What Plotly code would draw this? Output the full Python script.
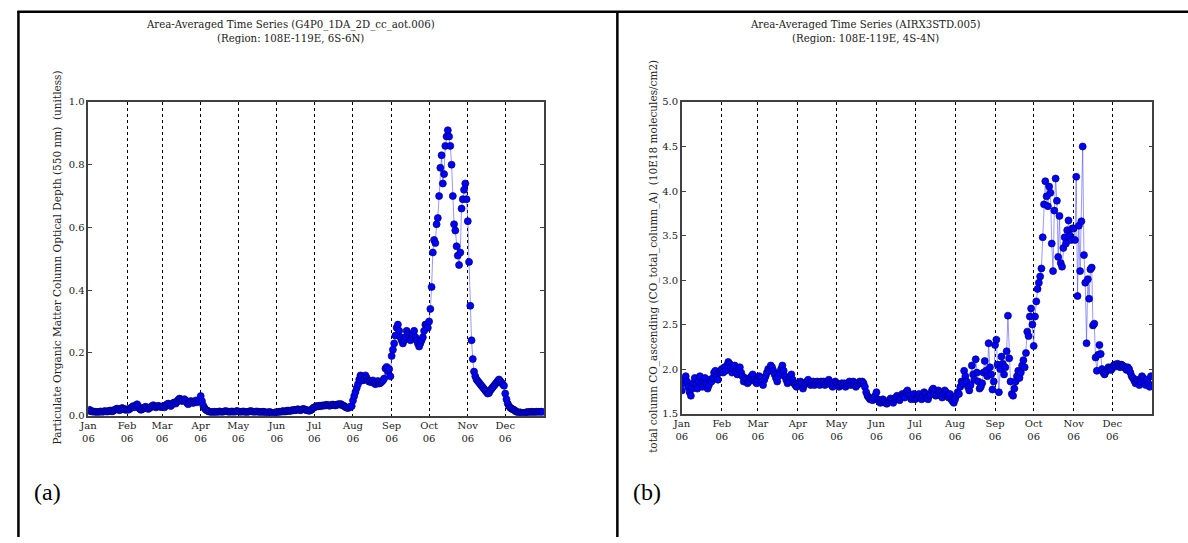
import datetime as dt
import plotly.graph_objects as go

W, H = 1188, 543

# ---------------- data: panel (a) organic matter AOT (unitless) ----------------
om_jan = [0.015,0.018,0.014,0.012,0.013,0.011,0.012,0.010,0.011,0.012,0.013,0.011,0.012,0.014,0.013,0.012,0.014,0.015,0.016,0.013,0.015,0.018,0.020,0.022,0.019,0.017,0.020,0.024,0.022,0.019,0.018]
om_feb = [0.020,0.018,0.021,0.024,0.027,0.030,0.026,0.032,0.036,0.030,0.022,0.018,0.020,0.023,0.026,0.028,0.024,0.021,0.024,0.027,0.030,0.033,0.029,0.026,0.028,0.031,0.029,0.027]
om_mar = [0.028,0.030,0.026,0.032,0.036,0.038,0.034,0.030,0.035,0.040,0.042,0.038,0.044,0.050,0.054,0.052,0.046,0.050,0.052,0.048,0.040,0.036,0.042,0.046,0.044,0.040,0.044,0.048,0.042,0.046,0.050]
om_apr = [0.062,0.046,0.032,0.024,0.019,0.016,0.014,0.012,0.011,0.010,0.011,0.012,0.011,0.010,0.012,0.013,0.012,0.011,0.012,0.013,0.014,0.013,0.012,0.011,0.012,0.013,0.012,0.011,0.013,0.014]
om_may = [0.013,0.012,0.011,0.012,0.013,0.012,0.011,0.010,0.012,0.013,0.014,0.013,0.012,0.011,0.012,0.013,0.012,0.011,0.010,0.011,0.012,0.011,0.010,0.009,0.010,0.011,0.010,0.009,0.008,0.009,0.010]
om_jun = [0.010,0.011,0.012,0.011,0.013,0.014,0.012,0.013,0.015,0.016,0.014,0.015,0.017,0.016,0.018,0.017,0.019,0.020,0.018,0.017,0.019,0.021,0.020,0.018,0.017,0.016,0.015,0.017,0.019,0.024]
om_jul = [0.026,0.028,0.030,0.029,0.031,0.030,0.032,0.031,0.033,0.032,0.034,0.033,0.031,0.032,0.034,0.035,0.033,0.032,0.034,0.036,0.035,0.037,0.034,0.032,0.030,0.027,0.025,0.024,0.026,0.028,0.030]
om_aug = [0.048,0.062,0.075,0.088,0.100,0.115,0.128,0.125,0.112,0.118,0.128,0.120,0.112,0.108,0.110,0.106,0.112,0.104,0.100,0.106,0.110,0.102,0.104,0.108,0.112,0.118,0.150,0.155,0.140,0.148,0.125]
om_sep = [0.19,0.21,0.23,0.255,0.28,0.29,0.27,0.25,0.24,0.23,0.24,0.25,0.27,0.26,0.25,0.24,0.25,0.26,0.27,0.25,0.24,0.23,0.22,0.23,0.24,0.25,0.27,0.29,0.29,0.28]
om_oct = [0.30,0.34,0.41,0.52,0.56,0.55,0.61,0.63,0.70,0.79,0.83,0.74,0.77,0.86,0.89,0.91,0.89,0.86,0.80,0.70,0.61,0.59,0.54,0.51,0.48,0.52,0.66,0.69,0.72,0.74,0.69]
om_nov = [0.62,0.49,0.35,0.24,0.18,0.14,0.125,0.115,0.11,0.105,0.10,0.095,0.09,0.085,0.08,0.075,0.07,0.072,0.08,0.085,0.09,0.095,0.10,0.105,0.11,0.115,0.11,0.105,0.10,0.095]
om_dec = [0.070,0.052,0.038,0.030,0.025,0.022,0.020,0.018,0.015,0.012,0.010,0.009,0.010,0.008,0.007,0.008,0.009,0.010,0.011,0.010,0.011,0.012,0.011,0.010,0.011,0.012,0.011,0.012,0.011,0.012,0.011]

# ---------------- data: panel (b) total column CO (10E18 molecules/cm2) ----------------
co_jan = [1.76,1.84,1.88,1.92,1.86,1.80,1.74,1.70,1.78,1.84,1.90,1.82,1.78,1.86,1.92,1.84,1.80,1.86,1.90,1.84,1.78,1.82,1.88,1.86,1.90,1.96,1.98,1.92,1.88,1.96,1.98]
co_feb = [2.00,1.96,2.02,1.98,2.04,2.08,2.06,2.02,1.96,2.00,2.04,1.98,1.94,2.00,2.02,1.96,1.92,1.86,1.90,1.88,1.84,1.86,1.90,1.92,1.94,1.88,1.86,1.84]
co_mar = [1.88,1.92,1.90,1.86,1.82,1.88,1.92,1.96,2.00,1.98,2.04,2.02,1.98,1.94,1.90,1.86,1.92,1.96,2.00,2.04,1.98,1.92,1.88,1.84,1.86,1.90,1.94,1.88,1.84,1.82,1.80]
co_apr = [1.84,1.82,1.86,1.84,1.78,1.82,1.84,1.86,1.88,1.84,1.82,1.84,1.86,1.82,1.84,1.86,1.84,1.82,1.86,1.84,1.86,1.82,1.84,1.86,1.88,1.84,1.82,1.80,1.84,1.86]
co_may = [1.84,1.82,1.80,1.82,1.84,1.82,1.84,1.80,1.82,1.84,1.86,1.82,1.84,1.86,1.84,1.80,1.82,1.84,1.86,1.84,1.86,1.84,1.80,1.74,1.70,1.68,1.66,1.66,1.65,1.68,1.70]
co_jun = [1.74,1.66,1.64,1.62,1.63,1.66,1.64,1.62,1.61,1.63,1.65,1.67,1.64,1.62,1.66,1.68,1.70,1.67,1.65,1.68,1.72,1.70,1.68,1.74,1.76,1.72,1.70,1.66,1.68,1.72]
co_jul = [1.66,1.68,1.70,1.72,1.68,1.66,1.70,1.74,1.72,1.68,1.66,1.70,1.72,1.76,1.78,1.74,1.70,1.72,1.76,1.74,1.70,1.68,1.72,1.76,1.74,1.70,1.68,1.72,1.66,1.64,1.62]
co_aug = [1.66,1.70,1.74,1.72,1.80,1.86,1.84,1.98,1.92,1.86,1.80,1.76,1.82,2.04,1.94,1.88,2.11,1.96,1.86,1.78,1.80,1.84,1.96,2.09,1.98,1.92,2.29,2.02,1.94,1.77,1.86]
co_sep = [2.27,2.33,2.05,1.74,2.00,2.14,2.06,1.94,2.02,2.20,2.60,2.12,1.86,1.72,1.70,1.78,1.86,1.92,1.98,1.90,1.96,2.04,2.10,2.02,2.18,2.42,2.37,2.59,2.68,2.50]
co_oct = [2.26,2.59,2.76,2.90,2.97,3.04,3.13,3.48,3.85,4.11,3.94,3.83,4.05,3.98,3.41,3.10,3.78,4.14,3.89,3.26,3.72,3.19,3.15,3.36,3.48,3.41,3.56,3.67,3.50,3.45,3.58]
co_nov = [3.58,3.45,4.16,2.82,3.61,3.10,3.66,4.50,3.28,2.97,2.29,3.01,2.79,3.12,3.14,2.49,2.51,2.13,1.98,2.16,2.27,2.17,2.00,1.96,1.94,1.97,1.99,2.02,2.01,1.99]
co_dec = [2.01,2.04,2.05,2.03,2.06,2.04,2.02,2.05,2.04,2.03,2.01,1.99,2.02,2.00,1.96,1.92,1.90,1.87,1.84,1.88,1.86,1.82,1.86,1.92,1.90,1.86,1.82,1.88,1.84,1.80,1.92]

om_months = [om_jan, om_feb, om_mar, om_apr, om_may, om_jun, om_jul, om_aug, om_sep, om_oct, om_nov, om_dec]
co_months = [co_jan, co_feb, co_mar, co_apr, co_may, co_jun, co_jul, co_aug, co_sep, co_oct, co_nov, co_dec]

month_names = ["Jan", "Feb", "Mar", "Apr", "May", "Jun", "Jul", "Aug", "Sep", "Oct", "Nov", "Dec"]
year_label = "06"

title_a = ["Area-Averaged Time Series (G4P0_1DA_2D_cc_aot.006)", "(Region: 108E-119E, 6S-6N)"]
title_b = ["Area-Averaged Time Series (AIRX3STD.005)", "(Region: 108E-119E, 4S-4N)"]
ylabel_a = "Particulate Organic Matter Column Optical Depth (550 nm)  (unitless)"
ylabel_b = "total column CO_ascending (CO_total_column_A)  (10E18 molecules/cm2)"


def build(months):
    xs, ys = [], []
    for m, vals in enumerate(months, start=1):
        for d, v in enumerate(vals, start=1):
            xs.append(dt.date(2006, m, d))
            ys.append(v)
    return xs, ys


xa, ya = build(om_months)
xb, yb = build(co_months)

tickvals = [dt.date(2006, m, 1) for m in range(1, 13)]
ticktext = [f"{n}<br>{year_label}" for n in month_names]

SERIF = "DejaVu Serif"


def px_x(p):
    return p / W


def px_y(p):
    return 1 - p / H


marker = dict(size=7, color="#0000FF", line=dict(color="#00006a", width=0.7))
line = dict(color="rgba(70,70,255,0.55)", width=1)

fig = go.Figure()
fig.add_trace(go.Scatter(x=xa, y=ya, mode="lines+markers", marker=marker, line=line,
                         xaxis="x", yaxis="y", showlegend=False, cliponaxis=True))
fig.add_trace(go.Scatter(x=xb, y=yb, mode="lines+markers", marker=marker, line=line,
                         xaxis="x2", yaxis="y2", showlegend=False, cliponaxis=True))

xcommon = dict(type="date", range=["2006-01-01", "2007-01-01"], tickmode="array",
               tickvals=tickvals, ticktext=ticktext, showgrid=True, gridcolor="black",
               griddash="dot", gridwidth=1, ticks="", showline=True, linecolor="#404040",
               linewidth=1.5, mirror=True, zeroline=False,
               tickfont=dict(family=SERIF, size=10, color="#222"))
ycommon = dict(showgrid=False, ticks="inside", ticklen=4, tickcolor="#404040",
               showline=True, linecolor="#404040", linewidth=1.5, mirror="ticks",
               zeroline=False, tickformat=".1f",
               tickfont=dict(family=SERIF, size=10, color="#222"))

fig.update_layout(
    width=W, height=H,
    margin=dict(l=0, r=0, t=0, b=0),
    paper_bgcolor="white", plot_bgcolor="white",
    xaxis=dict(domain=[px_x(80), px_x(539)], anchor="y", **xcommon),
    yaxis=dict(domain=[px_y(419), px_y(99)], anchor="x", range=[0, 1.0], dtick=0.2, tick0=0, **ycommon),
    xaxis2=dict(domain=[px_x(678), px_x(1152)], anchor="y2", **xcommon),
    yaxis2=dict(domain=[px_y(417), px_y(99)], anchor="x2", range=[1.5, 5.0], dtick=0.5, tick0=1.5, **ycommon),
)

ann = []
for cx, lines_ in ((284, title_a), (863, title_b)):
    for i, t in enumerate(lines_):
        ann.append(dict(text=t, x=px_x(cx), y=px_y(20 + 14.5 * i), xref="paper", yref="paper",
                        xanchor="center", yanchor="middle", showarrow=False,
                        font=dict(family=SERIF, size=10.2, color="#222")))
ann.append(dict(text=ylabel_a, x=px_x(48), y=px_y(258), xref="paper", yref="paper", textangle=-90,
                xanchor="center", yanchor="middle", showarrow=False,
                font=dict(family=SERIF, size=10.5, color="#222")))
ann.append(dict(text=ylabel_b, x=px_x(650), y=px_y(257), xref="paper", yref="paper", textangle=-90,
                xanchor="center", yanchor="middle", showarrow=False,
                font=dict(family=SERIF, size=10.5, color="#222")))
for cx, t in ((23, "(a)"), (627, "(b)")):
    ann.append(dict(text=t, x=px_x(cx), y=px_y(497), xref="paper", yref="paper",
                    xanchor="left", yanchor="middle", showarrow=False,
                    font=dict(family="Liberation Serif", size=24, color="black")))
fig.update_layout(annotations=ann)

shapes = [
    dict(type="line", xref="paper", yref="paper", x0=px_x(8.5), x1=1, y0=px_y(7), y1=px_y(7),
         line=dict(color="black", width=2.5)),
    dict(type="line", xref="paper", yref="paper", x0=px_x(9.5), x1=px_x(9.5), y0=px_y(6), y1=0,
         line=dict(color="black", width=2.5)),
    dict(type="line", xref="paper", yref="paper", x0=px_x(613), x1=px_x(613), y0=px_y(6), y1=0,
         line=dict(color="black", width=2.5)),
]
fig.update_layout(shapes=shapes)

fig.write_html("out.html", config={"displayModeBar": False},
               post_script="document.body.style.margin='0';document.body.style.overflow='hidden';")
